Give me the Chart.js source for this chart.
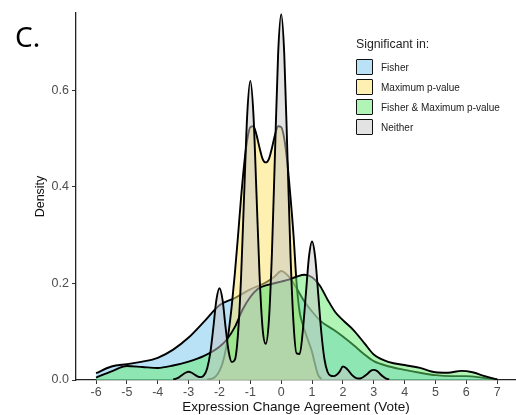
<!DOCTYPE html>
<html>
<head>
<meta charset="utf-8">
<script src="https://cdn.jsdelivr.net/npm/chart.js@4.4.0/dist/chart.umd.min.js"></script>
<style>
  body { margin: 0; background: #fff; }
  #wrap { position: relative; width: 516px; height: 415px; overflow: hidden; }
  #panel { position: absolute; left: 15px; top: 22px; font: 28px/1 "Noto Sans", sans-serif; color: #000; }
  #key { position: absolute; left: 356px; top: 38px; font-family: "Liberation Sans", Arial, sans-serif; color: #222; }
  #key .title { font-size: 12.3px; line-height: 1; margin-bottom: 7px; }
  #key .row { display: flex; align-items: center; height: 20px; }
  #key .box { width: 15px; height: 14px; border: 1.6px solid #111; border-radius: 1px; margin-right: 8px; }
  #key .lab { font-size: 10px; }
</style>
</head>
<body>
<div id="wrap">
  <canvas id="densityChart" width="516" height="415"></canvas>
  <div id="panel">C.</div>
  <div id="key"></div>
</div>
<script>
// groups, in legend order
const groups = ['Fisher', 'Maximum p-value', 'Fisher & Maximum p-value', 'Neither'];
const fills = ['rgba(115,197,239,0.5)', 'rgba(251,225,100,0.5)', 'rgba(100,235,110,0.5)', 'rgba(200,200,200,0.5)'];

const xTicks = [-6, -5, -4, -3, -2, -1, 0, 1, 2, 3, 4, 5, 6, 7];
const yTicks = [0, 0.2, 0.4, 0.6];

// density curves as [vote, density]
const fisherPts = [[-6,0.014],[-5.5,0.028],[-5,0.033],[-4.5,0.038],[-4,0.046],[-3.5,0.063],[-3,0.088],[-2.5,0.121],[-2,0.155],[-1.5,0.17],[-1,0.188],[-0.5,0.202],[-0.2,0.215],[0,0.226],[0.25,0.214],[0.5,0.19],[0.75,0.163],[1,0.142],[1.3,0.121],[1.7,0.104],[2,0.09],[2.35,0.072],[2.7,0.053],[3,0.039],[3.5,0.028],[4,0.021],[4.5,0.015],[5,0.01],[5.5,0.008],[6,0.008],[6.5,0.005],[7,0.001]];

const maxPPts = [[-2.4,0.001],[-2.3,0.002],[-2.2,0.004],[-2.1,0.009],[-2.0,0.019],[-1.9,0.035],[-1.8,0.062],[-1.7,0.101],[-1.6,0.155],[-1.5,0.222],[-1.4,0.298],[-1.3,0.378],[-1.2,0.447],[-1.1,0.498],[-1.0,0.524],[-0.9,0.526],[-0.8,0.508],[-0.7,0.481],[-0.6,0.458],[-0.5,0.451],[-0.4,0.458],[-0.3,0.481],[-0.2,0.508],[-0.1,0.526],[0.0,0.524],[0.1,0.5],[0.2,0.45],[0.3,0.38],[0.4,0.3],[0.5,0.2],[0.6,0.14],[0.7,0.115],[0.8,0.095],[0.9,0.077],[1.0,0.058],[1.1,0.032],[1.2,0.01],[1.3,0.002]];

const bothPts = [[-6,0.005],[-5.5,0.018],[-5,0.029],[-4.5,0.027],[-4,0.025],[-3.5,0.03],[-3,0.038],[-2.5,0.05],[-2,0.069],[-1.75,0.085],[-1.5,0.11],[-1.25,0.146],[-1,0.172],[-0.75,0.189],[-0.5,0.196],[-0.25,0.2],[0,0.204],[0.25,0.208],[0.5,0.214],[0.75,0.218],[1,0.213],[1.25,0.196],[1.5,0.167],[1.75,0.141],[2,0.124],[2.35,0.103],[2.7,0.076],[3,0.053],[3.5,0.037],[4,0.031],[4.5,0.025],[5,0.016],[5.4,0.015],[5.85,0.019],[6.2,0.016],[6.6,0.008],[7,0.001]];

const neitherPts = [[-3.5,0.001],[-3.4,0.003],[-3.3,0.006],[-3.2,0.011],[-3.1,0.015],[-3.0,0.017],[-2.9,0.015],[-2.8,0.011],[-2.7,0.007],[-2.6,0.006],[-2.5,0.01],[-2.4,0.024],[-2.3,0.055],[-2.2,0.108],[-2.1,0.166],[-2.0,0.19],[-1.9,0.166],[-1.8,0.108],[-1.7,0.058],[-1.6,0.037],[-1.5,0.042],[-1.4,0.095],[-1.3,0.213],[-1.2,0.385],[-1.1,0.551],[-1.0,0.62],[-0.9,0.551],[-0.8,0.385],[-0.7,0.215],[-0.6,0.105],[-0.5,0.075],[-0.4,0.122],[-0.3,0.263],[-0.2,0.472],[-0.1,0.675],[0.0,0.758],[0.1,0.675],[0.2,0.472],[0.3,0.262],[0.4,0.117],[0.5,0.055],[0.6,0.054],[0.7,0.101],[0.8,0.178],[0.9,0.255],[1.0,0.287],[1.1,0.255],[1.2,0.178],[1.3,0.099],[1.4,0.044],[1.5,0.017],[1.6,0.009],[1.7,0.008],[1.8,0.011],[1.9,0.018],[2.0,0.028],[2.1,0.025],[2.2,0.018],[2.3,0.01],[2.4,0.005],[2.5,0.003],[2.6,0.004],[2.7,0.008],[2.8,0.013],[2.9,0.019],[3.0,0.021],[3.1,0.019],[3.2,0.013],[3.3,0.007],[3.4,0.003],[3.5,0.001]];

const curves = [fisherPts, maxPPts, bothPts, neitherPts];

// legend drawn as html over the plot panel
const key = document.getElementById('key');
key.innerHTML = '<div class="title">Significant in:</div>' + groups.map((g, i) =>
  '<div class="row"><div class="box" style="background:' + fills[i] + '"></div><span class="lab">' +
  g.replace('&', '&amp;') + '</span></div>').join('');

const font = 'Liberation Sans';

new Chart(document.getElementById('densityChart'), {
  type: 'line',
  data: {
    datasets: curves.map((pts, i) => ({
      label: groups[i],
      data: pts.map(p => ({ x: p[0], y: p[1] })),
      borderColor: '#000',
      borderWidth: 1.9,
      backgroundColor: fills[i],
      fill: 'origin',
      pointRadius: 0,
      cubicInterpolationMode: 'monotone',
      order: 4 - i   // first group painted first, Neither on top
    }))
  },
  options: {
    responsive: false,
    animation: false,
    devicePixelRatio: 1,
    layout: { padding: { top: 13, right: 0, bottom: 0, left: 0 } },
    plugins: { legend: { display: false }, tooltip: { enabled: false } },
    scales: {
      x: {
        type: 'linear', min: -6.65, max: 7.61,
        afterBuildTicks: s => { s.ticks = xTicks.map(v => ({ value: v })); },
        afterFit: s => { s.height = 35; },
        ticks: { color: '#4d4d4d', font: { family: font, size: 12.5 }, padding: 1, maxRotation: 0, autoSkip: false, callback: v => String(v) },
        grid: { drawOnChartArea: false, drawTicks: true, tickLength: 4, color: '#333', lineWidth: 1 },
        border: { display: true, color: '#222', width: 1.3 },
        title: { display: true, text: 'Expression Change Agreement (Vote)', color: '#111', font: { family: font, size: 13.5 }, padding: { top: 0, bottom: 0 } }
      },
      y: {
        min: 0, max: 0.7606,
        afterBuildTicks: s => { s.ticks = yTicks.map(v => ({ value: v })); },
        afterFit: s => { s.width = 76; },
        ticks: { color: '#4d4d4d', font: { family: font, size: 12.5 }, padding: 3, callback: v => v.toFixed(1) },
        grid: { drawOnChartArea: false, drawTicks: true, tickLength: 4, color: '#333', lineWidth: 1 },
        border: { display: true, color: '#222', width: 1.3 },
        title: { display: true, text: 'Density', color: '#111', font: { family: font, size: 12.5 }, padding: { top: 33, bottom: 0 } }
      }
    }
  }
});
</script>
</body>
</html>
